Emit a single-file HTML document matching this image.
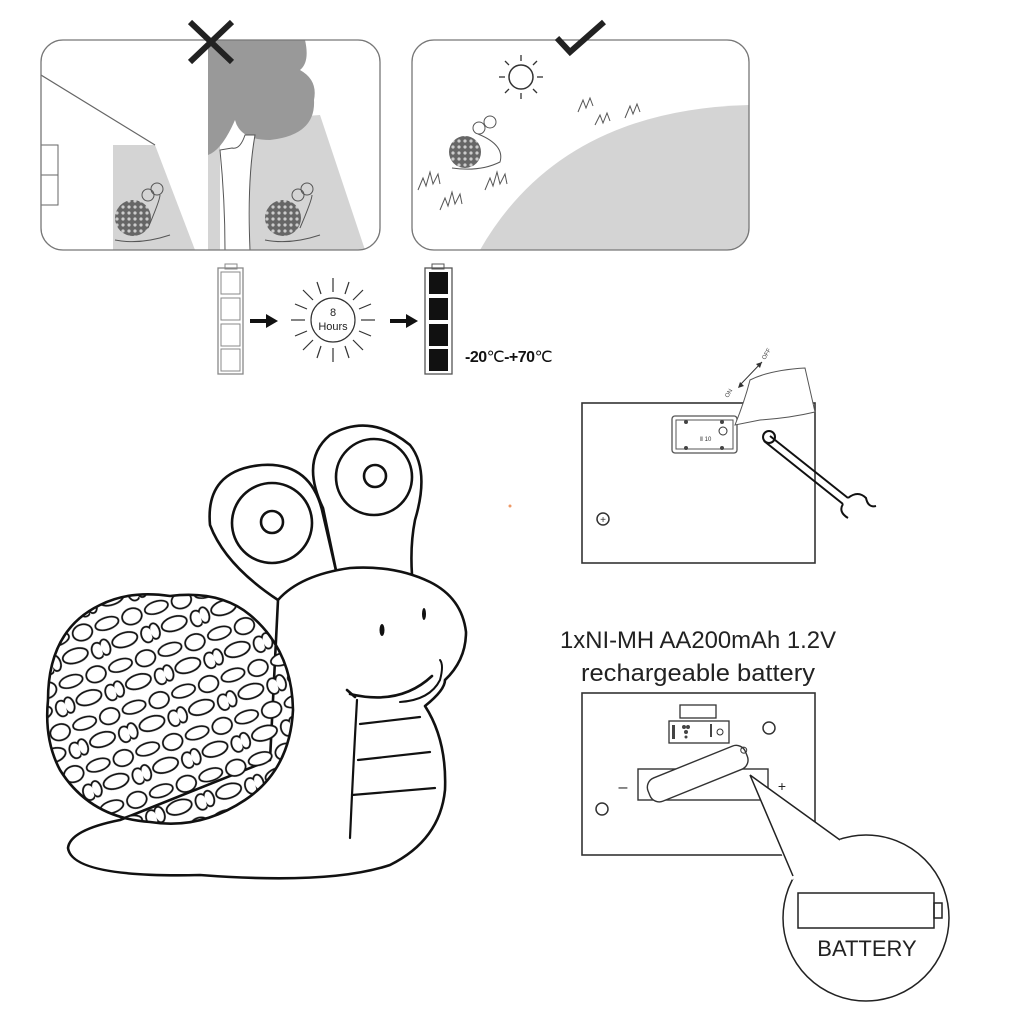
<!DOCTYPE html>
<html><head><meta charset="utf-8"><style>
html,body{margin:0;padding:0;background:#fff}
svg{display:block}
text{font-family:"Liberation Sans",sans-serif}
</style></head><body>
<svg width="1010" height="1010" viewBox="0 0 1010 1010" xmlns="http://www.w3.org/2000/svg">
<defs>
<pattern id="pebbles" width="52" height="44" patternUnits="userSpaceOnUse" patternTransform="rotate(-18)">
<ellipse cx="13" cy="10" rx="12" ry="6" fill="#fff" stroke="#111" stroke-width="1.8"/>
<ellipse cx="39" cy="11" rx="10" ry="8" fill="#fff" stroke="#111" stroke-width="1.8"/>
<ellipse cx="25" cy="31" rx="13" ry="7" fill="#fff" stroke="#111" stroke-width="1.8"/>
<ellipse cx="48" cy="33" rx="6" ry="8" fill="#fff" stroke="#111" stroke-width="1.8"/>
<ellipse cx="4" cy="32" rx="5" ry="8" fill="#fff" stroke="#111" stroke-width="1.8"/>
</pattern>
<pattern id="tiny" width="6" height="6" patternUnits="userSpaceOnUse">
<rect width="6" height="6" fill="#666"/><circle cx="3" cy="3" r="1.6" fill="#ccc"/>
</pattern>
<clipPath id="p1"><rect x="41" y="40" width="339" height="210" rx="22"/></clipPath>
<clipPath id="p2"><rect x="412" y="40" width="337" height="210" rx="22"/></clipPath>
</defs>

<g clip-path="url(#p1)">
<rect x="41" y="40" width="339" height="210" fill="#fff"/>
<polygon points="113,145 155,145 195,250 113,250" fill="#d4d4d4"/>
<line x1="41" y1="75" x2="155" y2="145" stroke="#666" stroke-width="1.2"/>
<rect x="41" y="145" width="17" height="30" fill="none" stroke="#666"/>
<rect x="41" y="175" width="17" height="30" fill="none" stroke="#666"/>
<polygon points="250,120 320,115 365,250 250,250" fill="#d4d4d4"/>
<rect x="208" y="140" width="12" height="110" fill="#d4d4d4"/>
<path d="M208,40 L305,40 Q310,62 300,70 Q318,80 314,100 Q316,135 270,140 Q240,140 235,120 Q222,150 208,155 Z" fill="#999"/>
<path d="M220,150 Q225,200 225,250 L250,250 Q247,180 255,135 L245,135 Q240,150 232,148 Z" fill="#fff" stroke="#555" stroke-width="1"/>
<circle cx="133" cy="218" r="18" fill="url(#tiny)"/>
<circle cx="283" cy="218" r="18" fill="url(#tiny)"/>
<path d="M148,228 Q160,200 160,195 M300,228 Q312,200 312,195" stroke="#555" fill="none"/>
<circle cx="148" cy="195" r="6" fill="none" stroke="#555"/><circle cx="157" cy="189" r="6" fill="none" stroke="#555"/>
<circle cx="298" cy="195" r="6" fill="none" stroke="#555"/><circle cx="307" cy="189" r="6" fill="none" stroke="#555"/>
<path d="M115,240 Q140,245 170,235 M265,240 Q290,245 320,235" stroke="#555" fill="none"/>
</g>
<rect x="41" y="40" width="339" height="210" rx="22" fill="none" stroke="#777" stroke-width="1.3"/>
<path d="M190,22 L232,62 M232,22 L190,62" stroke="#222" stroke-width="6"/>

<g clip-path="url(#p2)">
<path d="M480,250 Q560,110 749,105 L749,250 Z" fill="#d4d4d4"/>
</g>
<rect x="412" y="40" width="337" height="210" rx="22" fill="none" stroke="#777" stroke-width="1.3"/>
<path d="M557,38 L570,52 L604,22" stroke="#222" stroke-width="6" fill="none"/>
<circle cx="521" cy="77" r="12" fill="none" stroke="#333" stroke-width="1.5"/>
<g stroke="#333" stroke-width="1.3">
<line x1="521" y1="55" x2="521" y2="61"/><line x1="521" y1="93" x2="521" y2="99"/>
<line x1="499" y1="77" x2="505" y2="77"/><line x1="537" y1="77" x2="543" y2="77"/>
<line x1="505" y1="61" x2="509" y2="65"/><line x1="533" y1="89" x2="537" y2="93"/>
<line x1="537" y1="61" x2="533" y2="65"/><line x1="505" y1="93" x2="509" y2="89"/>
</g>
<circle cx="465" cy="152" r="16" fill="url(#tiny)"/>
<circle cx="479" cy="128" r="6" fill="none" stroke="#555"/><circle cx="490" cy="122" r="6" fill="none" stroke="#555"/>
<path d="M478,134 Q505,145 500,162 Q480,172 452,168" stroke="#555" fill="none"/>
<path d="M418,190 l5,-12 l3,8 l4,-14 l3,12 l5,-10 l2,10 M440,210 l5,-12 l3,8 l4,-14 l3,12 l5,-10 l2,10 M485,190 l5,-12 l3,8 l4,-14 l3,12 l5,-10 l2,10 M578,112 l5,-12 l3,8 l4,-10 l3,8 M595,125 l5,-10 l3,8 l4,-10 l3,8 M625,118 l5,-12 l3,8 l4,-10 l3,8" stroke="#555" fill="none"/>

<rect x="225" y="264" width="12" height="5" fill="none" stroke="#888"/>
<rect x="218" y="268" width="25" height="106" fill="none" stroke="#888" stroke-width="1.3"/>
<g fill="none" stroke="#888"><rect x="221" y="272" width="19" height="22"/><rect x="221" y="298" width="19" height="22"/><rect x="221" y="324" width="19" height="22"/><rect x="221" y="349" width="19" height="22"/></g>
<path d="M250,321 L268,321" stroke="#111" stroke-width="4"/><polygon points="266,314 278,321 266,328" fill="#111"/>
<circle cx="333" cy="320" r="22" fill="none" stroke="#333" stroke-width="1.2"/>
<g stroke="#333" stroke-width="1.2">
<line x1="333" y1="278" x2="333" y2="292"/><line x1="333" y1="348" x2="333" y2="362"/>
<line x1="291" y1="320" x2="305" y2="320"/><line x1="361" y1="320" x2="375" y2="320"/>
<line x1="303" y1="290" x2="313" y2="300"/><line x1="353" y1="340" x2="363" y2="350"/>
<line x1="363" y1="290" x2="353" y2="300"/><line x1="313" y1="340" x2="303" y2="350"/>
<line x1="317" y1="282" x2="321" y2="294"/><line x1="345" y1="346" x2="349" y2="358"/>
<line x1="349" y1="282" x2="345" y2="294"/><line x1="321" y1="346" x2="317" y2="358"/>
<line x1="295" y1="304" x2="307" y2="309"/><line x1="359" y1="331" x2="371" y2="336"/>
<line x1="371" y1="304" x2="359" y2="309"/><line x1="307" y1="331" x2="295" y2="336"/>
</g>
<text x="333" y="316" font-size="11" text-anchor="middle" fill="#222">8</text>
<text x="333" y="330" font-size="11" text-anchor="middle" fill="#222">Hours</text>
<path d="M390,321 L408,321" stroke="#111" stroke-width="4"/><polygon points="406,314 418,321 406,328" fill="#111"/>
<rect x="432" y="264" width="12" height="5" fill="none" stroke="#555"/>
<rect x="425" y="268" width="27" height="106" fill="none" stroke="#555" stroke-width="1.3"/>
<g fill="#111"><rect x="429" y="272" width="19" height="22"/><rect x="429" y="298" width="19" height="22"/><rect x="429" y="324" width="19" height="22"/><rect x="429" y="349" width="19" height="22"/></g>
<text x="465" y="362" font-size="16" font-weight="bold" fill="#111" letter-spacing="-0.5">-20<tspan font-weight="normal">℃</tspan>-+70<tspan font-weight="normal">℃</tspan></text>

<rect x="582" y="403" width="233" height="160" fill="none" stroke="#333" stroke-width="1.6"/>
<rect x="672" y="416" width="65" height="37" rx="3" fill="#fff" stroke="#555" stroke-width="1.3"/>
<rect x="676" y="420" width="57" height="29" fill="none" stroke="#555"/>
<g fill="#444"><circle cx="686" cy="422" r="2"/><circle cx="722" cy="422" r="2"/><circle cx="686" cy="448" r="2"/><circle cx="722" cy="448" r="2"/></g>
<circle cx="723" cy="431" r="4" fill="none" stroke="#333"/>
<text x="700" y="441" font-size="6" fill="#333">Ⅱ 10</text>
<path d="M735,425 Q745,400 750,380 Q770,370 805,368 L815,412 Q790,418 760,420 Z" fill="#fff" stroke="#555" stroke-width="1"/>
<line x1="740" y1="385" x2="762" y2="362" stroke="#333"/>
<polygon points="762,362 756,364 760,368" fill="#333"/><polygon points="738,388 744,386 740,382" fill="#333"/>
<text x="728" y="398" font-size="6" fill="#444" transform="rotate(-60 728 398)">ON</text>
<text x="765" y="360" font-size="6" fill="#444" transform="rotate(-60 765 360)">OFF</text>
<circle cx="769" cy="437" r="6" fill="none" stroke="#111" stroke-width="2"/>
<path d="M770,436 L848,498 M764,441 L843,504" stroke="#111" stroke-width="2"/>
<path d="M843,504 Q838,512 848,518 M848,498 Q858,490 866,498 Q868,508 876,506" stroke="#111" stroke-width="2" fill="none"/>
<circle cx="603" cy="519" r="6" fill="none" stroke="#333" stroke-width="1.5"/>
<text x="603" y="523" font-size="10" text-anchor="middle" fill="#333">+</text>

<text x="560" y="648" font-size="24" fill="#222" textLength="276" lengthAdjust="spacingAndGlyphs">1xNI-MH AA200mAh 1.2V</text>
<text x="581" y="681" font-size="24" fill="#222" textLength="234" lengthAdjust="spacingAndGlyphs">rechargeable battery</text>

<rect x="582" y="693" width="233" height="162" fill="none" stroke="#333" stroke-width="1.6"/>
<rect x="680" y="705" width="36" height="13" fill="none" stroke="#333" stroke-width="1.3"/>
<rect x="669" y="721" width="60" height="22" fill="none" stroke="#333" stroke-width="1.3"/>
<g fill="#444"><circle cx="684" cy="727" r="2"/><circle cx="688" cy="727" r="2"/><circle cx="686" cy="732" r="2"/><circle cx="686" cy="737" r="1.5"/><rect x="672" y="725" width="3" height="14"/><rect x="710" y="724" width="2" height="13"/></g>
<circle cx="720" cy="732" r="3" fill="none" stroke="#333"/>
<circle cx="769" cy="728" r="6" fill="none" stroke="#333" stroke-width="1.5"/>
<circle cx="602" cy="809" r="6" fill="none" stroke="#333" stroke-width="1.5"/>
<rect x="638" y="769" width="130" height="31" fill="#fff" stroke="#333" stroke-width="1.4"/>
<g transform="rotate(-22 700 770)"><rect x="644" y="760" width="105" height="25" rx="10" fill="#fff" stroke="#333" stroke-width="1.4"/><circle cx="748" cy="768" r="3" fill="none" stroke="#333"/></g>
<text x="623" y="792" font-size="16" text-anchor="middle" fill="#222">–</text>
<text x="782" y="791" font-size="14" text-anchor="middle" fill="#222">+</text>
<circle cx="866" cy="918" r="83" fill="#fff" stroke="#222" stroke-width="1.5"/>
<polygon points="750,775 792,880 845,843" fill="#fff"/>
<path d="M750,775 L793,876 M750,775 L840,840" stroke="#222" stroke-width="1.5" fill="none"/>
<rect x="798" y="893" width="136" height="35" fill="none" stroke="#222" stroke-width="1.5"/>
<rect x="934" y="903" width="8" height="15" fill="none" stroke="#222" stroke-width="1.5"/>
<text x="867" y="956" font-size="22" text-anchor="middle" fill="#222">BATTERY</text>

<circle cx="510" cy="506" r="1.5" fill="#e96"/>

<g stroke="#111" stroke-width="2.6" fill="#fff" stroke-linejoin="round" stroke-linecap="round">
<path d="M278,600 Q225,565 210,525 Q205,470 262,465 Q310,462 322,510 L337,575 Z"/>
<path d="M323,508 Q300,460 330,435 Q370,412 410,445 Q430,470 415,520 Q410,545 412,575 L337,575 Z"/>
<circle cx="272" cy="523" r="40"/>
<circle cx="272" cy="522" r="11"/>
<circle cx="374" cy="477" r="38"/>
<circle cx="375" cy="476" r="11"/>
<path d="M120,820 Q70,830 68,848 Q72,878 200,875 Q330,885 390,865 Q440,840 445,790 Q447,740 425,706 Q445,690 445,680 Q466,660 466,632 Q462,598 430,582 Q395,565 350,568 Q300,575 278,600 L270,760 Z"/>
<path d="M350,694 Q400,706 432,676" fill="none"/>
<path d="M400,702 Q430,700 440,680 Q444,665 440,660" fill="none" stroke-width="2"/>
<path d="M347,690 L355,697" fill="none"/>
<path d="M360,724 L420,717 M358,760 L430,752 M352,795 L435,788" fill="none" stroke-width="2.2"/>
<path d="M357,700 Q353,770 350,838" fill="none" stroke-width="2.2"/>
</g>
<ellipse cx="424" cy="614" rx="2" ry="6" fill="#111"/>
<ellipse cx="382" cy="630" rx="2.5" ry="6" fill="#111"/>
<path d="M48,700 Q48,630 100,605 Q130,590 170,596 Q220,590 250,615 Q292,650 293,710 Q290,770 245,800 Q200,830 150,822 Q90,818 60,770 Q44,740 48,700 Z" fill="url(#pebbles)" stroke="#111" stroke-width="2.6"/>
</svg>
</body></html>
